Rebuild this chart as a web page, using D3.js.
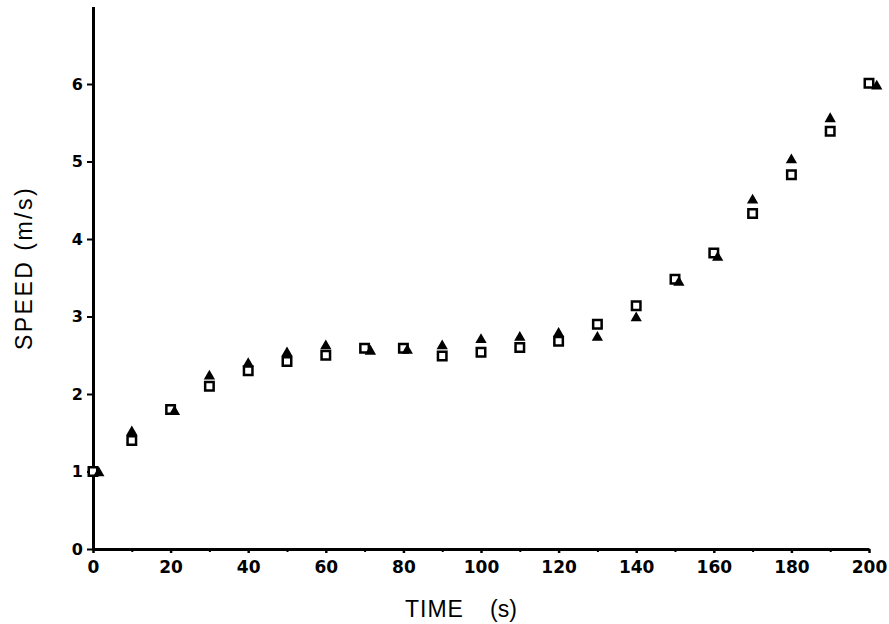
<!DOCTYPE html>
<html>
<head>
<meta charset="utf-8">
<script src="https://cdn.jsdelivr.net/npm/d3@7"></script>
<style>
  body { margin: 0; background: #fff; }
  svg { display: block; }
</style>
</head>
<body>
<div id="chart"></div>
<script>
// Time (s) for the open-square series
const squareTime = [0, 10, 20, 30, 40, 50, 60, 70, 80, 90, 100, 110, 120, 130, 140, 150, 160, 170, 180, 190, 200]
const squareSpeed = [1.0, 1.40, 1.80, 2.10, 2.30, 2.42, 2.50, 2.59, 2.59, 2.49, 2.54, 2.60, 2.68, 2.90, 3.14, 3.48, 3.82, 4.33, 4.83, 5.39, 6.01]

// Filled-triangle series (times read as drawn, some sit a little right of the square)
const triTime = [1.5, 10, 21, 30, 40, 50, 60, 71.5, 81, 90, 100, 110, 120, 130, 140, 151, 161, 170, 180, 190, 202]
const triSpeed = [0.98, 1.51, 1.77, 2.23, 2.39, 2.53, 2.62, 2.55, 2.56, 2.62, 2.70, 2.73, 2.78, 2.73, 2.98, 3.44, 3.76, 4.50, 5.02, 5.55, 5.97]

const xMajor = [0, 20, 40, 60, 80, 100, 120, 140, 160, 180, 200]
const xMinor = [10, 30, 50, 70, 90, 110, 130, 150, 170, 190]
const yTicks = [0, 1, 2, 3, 4, 5, 6]

const width = 889
const height = 624

const svg = d3.select("#chart").append("svg")
  .attr("width", width)
  .attr("height", height)

const x = d3.scaleLinear().domain([0, 200]).range([93, 869])
const y = d3.scaleLinear().domain([0, 7]).range([549, 6.5])

// X axis: minor ticks first, then labelled major ticks
svg.append("g")
  .attr("transform", `translate(0,${y(0)})`)
  .call(d3.axisBottom(x).tickValues(xMinor).tickFormat("").tickSize(3).tickSizeOuter(0))
  .call(g => g.select(".domain").remove())
  .call(g => g.selectAll("line").attr("stroke", "#000").attr("stroke-width", 2))

const xAxis = svg.append("g")
  .attr("transform", `translate(0,${y(0)})`)
  .call(d3.axisBottom(x).tickValues(xMajor).tickFormat(d3.format("d")).tickSize(4).tickSizeOuter(0).tickPadding(8))
xAxis.select(".domain").attr("stroke", "#000").attr("stroke-width", 3)
xAxis.selectAll("line").attr("stroke", "#000").attr("stroke-width", 2.5)
xAxis.selectAll("text")
  .attr("fill", "#000")
  .attr("font-family", "DejaVu Sans")
  .attr("font-weight", 600)
  .attr("font-size", 17)

// Y axis
const yAxis = svg.append("g")
  .attr("transform", `translate(${x(0)},0)`)
  .call(d3.axisLeft(y).tickValues(yTicks).tickFormat(d3.format("d")).tickSize(6).tickSizeOuter(0).tickPadding(4))
yAxis.select(".domain").attr("stroke", "#000").attr("stroke-width", 3)
yAxis.selectAll("line").attr("stroke", "#000").attr("stroke-width", 2)
yAxis.selectAll("text")
  .attr("fill", "#000")
  .attr("font-family", "DejaVu Sans")
  .attr("font-weight", 600)
  .attr("font-size", 16)

// Axis titles
svg.append("text")
  .attr("x", 405)
  .attr("y", 617)
  .attr("font-family", "Liberation Sans")
  .attr("font-size", 23)
  .attr("fill", "#000")
  .attr("letter-spacing", 1)
  .text("TIME")

svg.append("text")
  .attr("x", 490)
  .attr("y", 617)
  .attr("font-family", "Liberation Sans")
  .attr("font-size", 23)
  .attr("fill", "#000")
  .text("(s)")

svg.append("text")
  .attr("transform", `translate(32,268) rotate(-90)`)
  .attr("text-anchor", "middle")
  .attr("font-family", "Liberation Sans")
  .attr("font-size", 23)
  .attr("letter-spacing", 2.5)
  .attr("fill", "#000")
  .text("SPEED (m/s)")

// Squares (open), then triangles (filled) on top
svg.append("g")
  .selectAll("path")
  .data(squareTime.map((t, i) => ({ t, v: squareSpeed[i] })))
  .enter().append("path")
  .attr("d", d3.symbol().type(d3.symbolSquare).size(72))
  .attr("transform", d => `translate(${x(d.t)},${y(d.v)})`)
  .attr("fill", "#fff")
  .attr("stroke", "#000")
  .attr("stroke-width", 2.5)

svg.append("g")
  .selectAll("path")
  .data(triTime.map((t, i) => ({ t, v: triSpeed[i] })))
  .enter().append("path")
  .attr("d", d3.symbol().type(d3.symbolTriangle).size(55))
  .attr("transform", d => `translate(${x(d.t)},${y(d.v)})`)
  .attr("fill", "#000")
</script>
</body>
</html>
